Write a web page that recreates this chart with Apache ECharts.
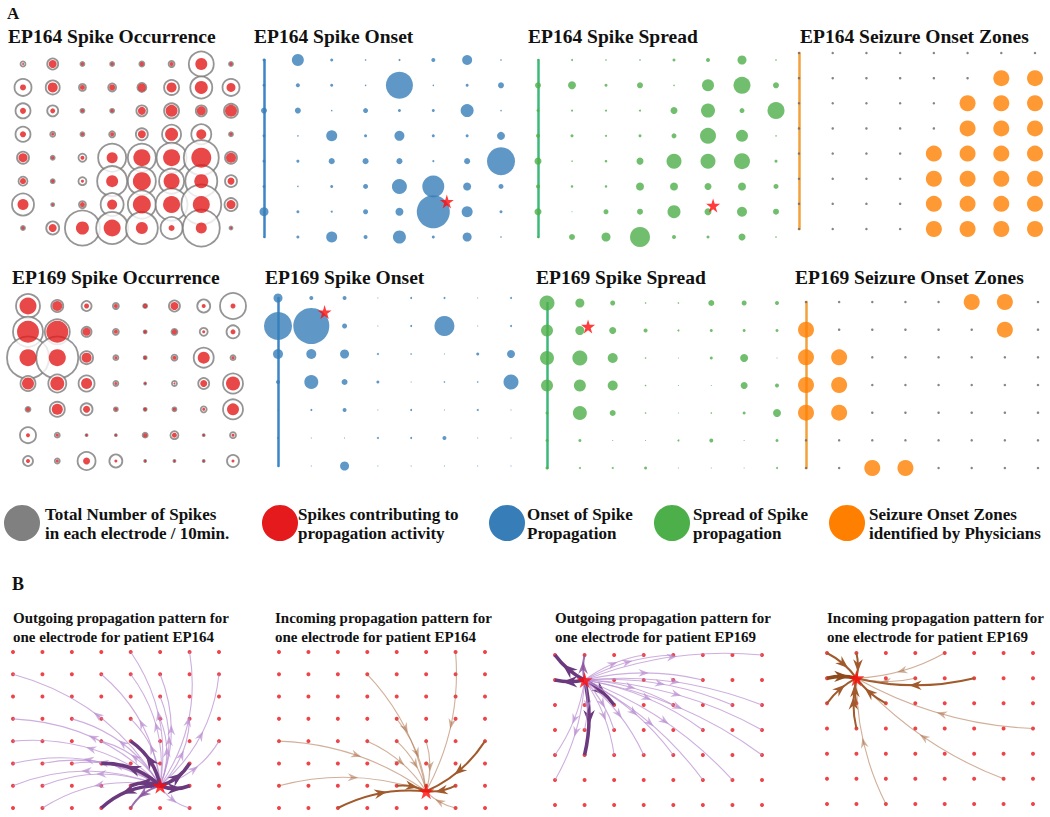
<!DOCTYPE html>
<html><head><meta charset="utf-8">
<script src="https://cdn.jsdelivr.net/npm/echarts@6/dist/echarts.min.js"></script>
<style>html,body{margin:0;padding:0;background:#fff}#c{width:1050px;height:817px}</style>
</head><body><div id="c"></div>
<script>
// ---------- DATA ----------
const panelTitles = ['EP164 Spike Occurrence','EP164 Spike Onset','EP164 Spike Spread','EP164 Seizure Onset Zones',
  'EP169 Spike Occurrence','EP169 Spike Onset','EP169 Spike Spread','EP169 Seizure Onset Zones'];
const bTitles = ['Outgoing propagation pattern for\none electrode for patient EP164','Incoming propagation pattern for\none electrode for patient EP164',
  'Outgoing propagation pattern for\none electrode for patient EP169','Incoming propagation pattern for\none electrode for patient EP169'];
const legendLabels = ['Total Number of Spikes\nin each electrode / 10min.','Spikes contributing to\npropagation activity','Onset of Spike\nPropagation','Spread of Spike\npropagation','Seizure Onset Zones\nidentified by Physicians'];

// EP164 (8x8) – marker sizes per electrode (rows top->bottom)
const ep164Total = [
 [5,11,4,4,5,6,25,4],
 [17,14,7,8,9,15,22,17],
 [15,11,4,4,11,15,11,14],
 [15,5,4,6,12,19,20,4],
 [12,4,8,28,28,30,35,12],
 [9,4,8,30,28,25,32,12],
 [22,3,7,23,28,32,40,13],
 [4,13,35,32,32,22,37,3]];
const ep164Contrib = [
 [2,8,3,3,4,4,12,3],
 [6,10,5,6,8,10,13,9],
 [6,5,3,3,8,12,9,12],
 [6,3,3,4,8,13,10,3],
 [9,3,4,11,17,17,20,10],
 [6,3,3,12,18,16,14,7],
 [11,2,5,10,18,17,17,9],
 [3,8,13,17,12,6,11,2]];
const ep164Onset = [
 [3,12,3,1.5,2,4,10,1.5],
 [3,4,3,1.5,27,1.5,3,6],
 [6,6,1.5,5,3,3,13,1.5],
 [3,1.5,11,3,10,3,3,8],
 [3,3,6,6,6,2,6,28],
 [3,1.5,3,5,15,22,8,5],
 [9,3,2,5,8,33,11,3],
 [1.5,3,11,4,13,3,9,1.5]];
const ep164Spread = [
 [1.5,2,1.5,1.5,3,4,9,1.5],
 [6,8,3,6,1.5,12,17,6],
 [3,2,2,2,7,14,5,17],
 [4,3,2,3,5,16,12,1.5],
 [7,1.5,2.5,7,15,15,16,3],
 [4,2.5,2.5,8,8,7,8,5],
 [7,1,5,6,13,7,10,6],
 [2,6,9,20,4,3,7,1.5]];
const ep164Soz = [
 [0,0,0,0,0,0,0,0],
 [0,0,0,0,0,0,1,1],
 [0,0,0,0,0,1,1,1],
 [0,0,0,0,0,1,1,1],
 [0,0,0,0,1,1,1,1],
 [0,0,0,0,1,1,1,1],
 [0,0,0,0,1,1,1,1],
 [0,0,0,0,1,1,1,1]];
const ep164OnsetStar = [5.4, 5.6];
const ep164SpreadStar = [5.15, 5.75];

// EP169 (7 rows x 8 cols)
const ep169Total = [
 [24,12,10,6,4,11,13,26],
 [30,25,10,6,3,6,8,13],
 [42,42,13,5,3,6,20,5],
 [15,18,16,5,2,5,11,20],
 [5,15,12,4,3,4,6,20],
 [16,5,2,2,5,8,2,6],
 [10,5,18,13,2,2,2,12]];
const ep169Contrib = [
 [17,10,5,4,4,8,4,5],
 [22,22,8,4,3,5,3,5],
 [17,17,10,3,3,4,12,3],
 [12,14,11,3,2,2,7,14],
 [4,11,7,3,3,3,3,12],
 [4,3,2,2,4,5,2,3],
 [4,3,7,3,2,2,2,3]];
const ep169Onset = [
 [9,4,4,1,2,2,1,2],
 [28,36,5,1,2,20,1,2],
 [10,10,9,2,1.5,1,3,8],
 [4,14,6,3,1,1.5,1.5,15],
 [1,2,4,1,2,1,2,1],
 [2,1,1,2,2,4,1,1],
 [1,1,9,1,1,1,1,1]];
const ep169Spread = [
 [15,9,5,1.5,1.5,6,5,4],
 [12,9,7,4,2,3,3,3],
 [14,15,10,1.5,1,3,8,1],
 [12,12,10,1.5,1,1,7,4],
 [3,14,6,1.5,1,1.5,3,8],
 [3,3,1,1,2,4,1,3],
 [3,2,2,3,1,1,1,2]];
const ep169Soz = [
 [0,0,0,0,0,1,1,0],
 [1,0,0,0,0,0,1,0],
 [1,1,0,0,0,0,0,0],
 [1,1,0,0,0,0,0,0],
 [1,1,0,0,0,0,0,0],
 [0,0,0,0,0,0,0,0],
 [0,0,1,1,0,0,0,0]];
const ep169OnsetStar = [1.4, 0.5];
const ep169SpreadStar = [1.25, 0.85];

// Panel B: star electrode and connected electrodes [col,row,weight]
const b1Star = [5, 6];
const b1Edges = [[0,1,1],[0,3,1],[0,4,1],[0,5,1],[0,6,1],[1,7,1],[3,1,1],[4,0,1],[6,0,1],[7,1,1],[7,4,1],[6,7,1],
 [5,1,1],[4,1,1],[5,2,1],[4,3,1],[2,3,1],[3,4,1],[1,5,1],[2,5,1],[5,3,1],[6,3,1],[1,6,1],
 [4,4,3],[3,5,3],[4,6,3],[3,7,3],[6,6,3],[6,5,3],[4,7,2]];
const b2Star = [5, 6.25];
const b2Edges = [[3,1,1],[6,0,1],[0,4,1],[0,6,1],[2,7,2],[7,4,2],[4,3,1],[4,4,1],[3,4,1],[6,6,2],[6,7,1],[4,6,2],[5,4,1]];
const b3Star = [1, 1];
const b3Edges = [[0,0,3],[0,1,3],[1,0,2],[2,2,3],[1,4,3],[7,0,1],[5,1,1],[4,0,1],[3,0,1],[7,2,1],[6,2,1],[7,3,1],[7,4,1],
 [6,5,1],[5,5,1],[4,4,1],[3,4,1],[2,4,1],[2,3,1],[0,5,1],[0,4,1],[1,3,1],[4,2,1],[5,3,1]];
const b4Star = [1, 1];
const b4Edges = [[0,0,2],[0,1,3],[0,2,2],[1,0,2],[4,0,1],[5,1,2],[3,1,1],[7,3,1],[6,5,1],[2,6,1],[1,3,2],[2,2,2],[1,2,2]];

// ---------- BUILD ----------
const SERIF = '"Liberation Serif","Times New Roman",serif';
const STAR = 'path://M50,0 L61,35 L98,35 L68,57 L79,91 L50,70 L21,91 L32,57 L2,35 L39,35 Z';
function cells(mat){const o=[];mat.forEach((row,r)=>row.forEach((v,c)=>o.push([c,r,v])));return o;}
function gridPts(cols,rows){const o=[];for(let r=0;r<rows;r++)for(let c=0;c<cols;c++)o.push([c,r]);return o;}

const gridDefs = [
 {l:23,t:64,w:208,h:164,rows:8},
 {l:264,t:60,w:237,h:177,rows:8,line:'#3d85c6',off:15},
 {l:538,t:60,w:238,h:177,rows:8,line:'#3cb878',off:16},
 {l:799,t:53,w:236,h:176,rows:8,line:'#f2a13c',off:5},
 {l:28,t:306,w:205,h:155,rows:7},
 {l:278,t:298,w:233,h:168,rows:7,line:'#3d85c6',off:22},
 {l:547,t:303,w:230,h:165,rows:7,line:'#3cb878',off:17},
 {l:806,t:302,w:232,h:166,rows:7,line:'#f2a13c',off:17},
 {l:13,t:652,w:206,h:156,rows:8},
 {l:279,t:652,w:206,h:156,rows:8},
 {l:555,t:655,w:207,h:150,rows:7},
 {l:827,t:653,w:206,h:151,rows:7}
];
const grid = gridDefs.map(g=>({left:g.l,top:g.t,width:g.w,height:g.h}));
const xAxis = gridDefs.map((g,i)=>({gridIndex:i,type:'value',min:0,max:7,show:false}));
const yAxis = gridDefs.map((g,i)=>({gridIndex:i,type:'value',min:0,max:g.rows-1,inverse:true,show:!!g.line,
  offset:g.off||0,axisLine:{show:!!g.line,lineStyle:{color:g.line||'#000',width:2.5}},
  axisTick:{show:false},axisLabel:{show:false},splitLine:{show:false}}));

const series = [];
function sc(gi,data,opt){series.push(Object.assign({type:'scatter',xAxisIndex:gi,yAxisIndex:gi,data:data,silent:true,
  symbolSize:v=>v[2]},opt));}

// Occurrence panels
sc(0,cells(ep164Total),{itemStyle:{color:'#fff',borderColor:'#7b7b7b',borderWidth:1.8},z:2});
sc(0,cells(ep164Contrib),{itemStyle:{color:'#e41a1c'},z:3});
sc(4,cells(ep169Total),{itemStyle:{color:'#fff',borderColor:'#7b7b7b',borderWidth:1.8},z:2});
sc(4,cells(ep169Contrib),{itemStyle:{color:'#e41a1c'},z:3});
// Onset / Spread
sc(1,cells(ep164Onset),{itemStyle:{color:'#377eb8'}});
sc(2,cells(ep164Spread),{itemStyle:{color:'#4daf4a'}});
sc(5,cells(ep169Onset),{itemStyle:{color:'#377eb8'}});
sc(6,cells(ep169Spread),{itemStyle:{color:'#4daf4a'}});
sc(1,[ep164OnsetStar],{symbol:STAR,symbolSize:14,itemStyle:{color:'#ff0a0a'},z:5});
sc(2,[ep164SpreadStar],{symbol:STAR,symbolSize:14,itemStyle:{color:'#ff0a0a'},z:5});
sc(5,[ep169OnsetStar],{symbol:STAR,symbolSize:14,itemStyle:{color:'#ff0a0a'},z:5});
sc(6,[ep169SpreadStar],{symbol:STAR,symbolSize:14,itemStyle:{color:'#ff0a0a'},z:5});
// SOZ: small dots for non-SOZ electrodes, orange discs for SOZ electrodes
sc(3,cells(ep164Soz).filter(d=>d[2]===0),{symbolSize:2.5,itemStyle:{color:'#666'}});
sc(3,cells(ep164Soz).filter(d=>d[2]===1),{symbolSize:16,itemStyle:{color:'#ff7f00'},z:3});
sc(7,cells(ep169Soz).filter(d=>d[2]===0),{symbolSize:2.5,itemStyle:{color:'#666'}});
sc(7,cells(ep169Soz).filter(d=>d[2]===1),{symbolSize:16,itemStyle:{color:'#ff7f00'},z:3});

// Panel B
function edgeSeries(gi,star,edges,outgoing,curv,cols){
  const data = edges.map(e=>outgoing?[star[0],star[1],e[0],e[1],e[2]]:[e[0],e[1],star[0],star[1],e[2]]);
  series.push({type:'custom',xAxisIndex:gi,yAxisIndex:gi,data:data,silent:true,clip:false,z:2,
    encode:{x:[0,2],y:[1,3]},
    renderItem:function(params,api){
      const p1=api.coord([api.value(0),api.value(1)]), p2=api.coord([api.value(2),api.value(3)]);
      const w=api.value(4);
      const dx=p2[0]-p1[0], dy=p2[1]-p1[1], len=Math.hypot(dx,dy)||1;
      const cx=(p1[0]+p2[0])/2 - dy*curv, cy=(p1[1]+p2[1])/2 + dx*curv;
      const mx=0.25*p1[0]+0.5*cx+0.25*p2[0], my=0.25*p1[1]+0.5*cy+0.25*p2[1];
      const ux=dx/len, uy=dy/len, s=4+w*1.2;
      const pts=[[mx+ux*s,my+uy*s],[mx-ux*s-uy*s*0.75,my-uy*s+ux*s*0.75],[mx-ux*s*0.35,my-uy*s*0.35],[mx-ux*s+uy*s*0.75,my-uy*s-ux*s*0.75]];
      const col=cols[w-1], lw=[1.1,2,3.6][w-1];
      return {type:'group',children:[
        {type:'bezierCurve',shape:{x1:p1[0],y1:p1[1],x2:p2[0],y2:p2[1],cpx1:cx,cpy1:cy},style:{stroke:col,lineWidth:lw,fill:null}},
        {type:'polygon',shape:{points:pts},style:{fill:col}}]};
    }});
  sc(gi,gridPts(8,gridDefs[gi].rows),{symbolSize:4,itemStyle:{color:'#e8141c'},z:1});
  sc(gi,[star],{symbol:STAR,symbolSize:16,itemStyle:{color:'#ff0a0a'},z:6});
}
const purple=['rgba(184,140,208,0.7)','rgba(140,85,160,0.85)','#6b3a7e'];
const brown=['rgba(172,110,70,0.55)','#a05a2c','#8f4a1c'];
edgeSeries(8,b1Star,b1Edges,true,0.2,purple);
edgeSeries(9,b2Star,b2Edges,false,-0.15,brown);
edgeSeries(10,b3Star,b3Edges,true,-0.12,purple);
edgeSeries(11,b4Star,b4Edges,false,-0.12,brown);

// Titles
const tStyle = {fontFamily:SERIF,fontWeight:'bold',color:'#111'};
const titlePos = [[8,26],[254,26],[528,26],[800,26],[12,267],[265,267],[536,267],[795,267]];
const title = [{text:'A',left:7,top:5,padding:0,textStyle:Object.assign({fontSize:17},tStyle)},
  {text:'B',left:12,top:575,padding:0,textStyle:Object.assign({fontSize:18},tStyle)}];
panelTitles.forEach((t,i)=>title.push({text:t,left:titlePos[i][0],top:titlePos[i][1],padding:0,
  textStyle:Object.assign({fontSize:19.5,lineHeight:20},tStyle)}));
const bPos=[13,275,555,827];
bTitles.forEach((t,i)=>title.push({text:t,left:bPos[i],top:609,padding:0,
  textStyle:Object.assign({fontSize:15,lineHeight:18.5},tStyle)}));

// Legend (graphic)
const legColors=['#808080','#e41a1c','#377eb8','#4daf4a','#ff7f00'];
const legCx=[22,280,507,672,847], legTx=[45,298,527,693,869];
const graphic=[];
legendLabels.forEach((lab,i)=>{
  graphic.push({type:'circle',shape:{cx:legCx[i],cy:523,r:18},style:{fill:legColors[i]},silent:true});
  graphic.push({type:'text',left:legTx[i],top:505,silent:true,style:{text:lab,fontFamily:SERIF,fontWeight:'bold',fontSize:17,lineHeight:19,fill:'#111'}});
});

const chart = echarts.init(document.getElementById('c'),null,{renderer:'svg'});
chart.setOption({animation:false,backgroundColor:'#fff',title,grid,xAxis,yAxis,series,graphic});
</script></body></html>
